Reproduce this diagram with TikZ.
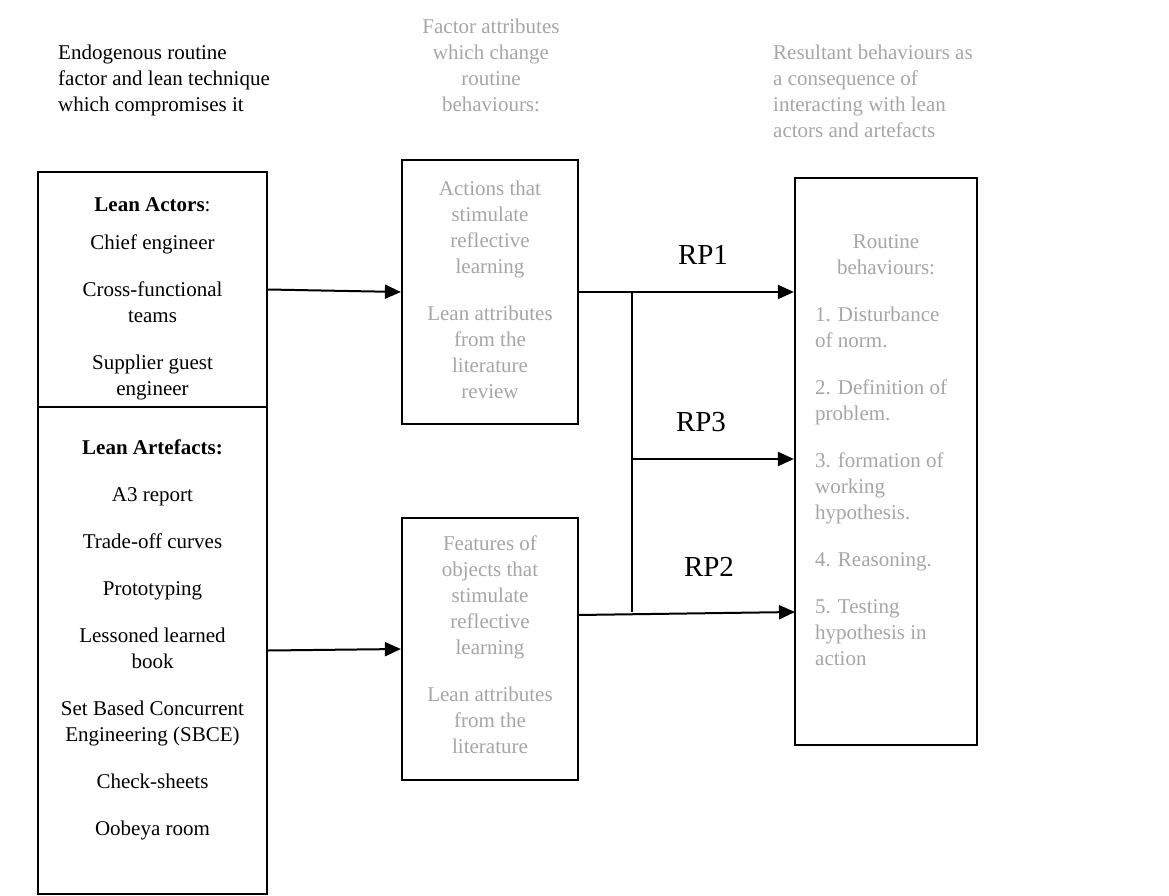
\documentclass[tikz,border=0pt]{standalone}
\usepackage{fontspec}
\setmainfont{Liberation Serif}
\usetikzlibrary{arrows.meta}
\definecolor{ltgray}{RGB}{166,166,166}
\tikzset{
  box/.style={draw=black, line width=2.2pt, inner sep=0pt, fill=white},
  txt/.style={inner sep=0pt, font=\fontsize{21}{26}\selectfont},
  gtxt/.style={txt, text=ltgray},
  rplabel/.style={inner sep=0pt, font=\fontsize{29}{34}\selectfont},
  thickln/.style={line width=2pt},
  thinln/.style={line width=1.2pt},
  arr/.style={-{Triangle[length=16pt,width=14pt]}},
}
\begin{document}
\begin{tikzpicture}[x=1pt,y=-1pt]
\useasboundingbox (0,0) rectangle (1169,896);

% boxes
\node[box, minimum width=229pt, minimum height=235pt] (actors) at (152.5,289.5) {};
\node[box, minimum width=229pt, minimum height=487pt] (artefacts) at (152.5,650.5) {};
\node[box, minimum width=176pt, minimum height=264pt] (actions) at (490,292) {};
\node[box, minimum width=176pt, minimum height=262pt] (features) at (490,649) {};
\node[box, minimum width=182pt, minimum height=567pt] (routine) at (886,461.5) {};

% headers
\node[txt, anchor=north west, align=left] (hleft) at (58,45)
  {Endogenous routine\\factor and lean technique\\which compromises it};
\node[gtxt, anchor=north, align=center] (hmid) at (491,19)
  {Factor attributes\\which change\\routine\\behaviours:};
\node[gtxt, anchor=north west, align=left] (hright) at (773,45)
  {Resultant behaviours as\\a consequence of\\interacting with lean\\actors and artefacts};

% box texts
\node[txt, anchor=north, align=center] (tactors) at (152.5,197)
  {\textbf{Lean Actors}:\\[12pt]Chief engineer\\[21pt]Cross-functional\\teams\\[21pt]Supplier guest\\engineer};
\node[txt, anchor=north, align=center] (tartefacts) at (152.5,440)
  {\textbf{Lean Artefacts:}\\[21pt]A3 report\\[21pt]Trade-off curves\\[21pt]Prototyping\\[21pt]Lessoned learned\\book\\[21pt]Set Based Concurrent\\Engineering (SBCE)\\[21pt]Check-sheets\\[21pt]Oobeya room};
\node[gtxt, anchor=north, align=center] (tactions) at (490,181)
  {Actions that\\stimulate\\reflective\\learning\\[21pt]Lean attributes\\from the\\literature\\review};
\node[gtxt, anchor=north, align=center] (tfeatures) at (490,536)
  {Features of\\objects that\\stimulate\\reflective\\learning\\[21pt]Lean attributes\\from the\\literature};
\node[gtxt, anchor=north, align=center] (troutinehead) at (886,234)
  {Routine\\behaviours:};
\node[gtxt, anchor=north west, align=left] (troutinelist) at (815,307)
  {1. Disturbance\\of norm.\\[21pt]2. Definition of\\problem.\\[21pt]3. formation of\\working\\hypothesis.\\[21pt]4. Reasoning.\\[21pt]5. Testing\\hypothesis in\\action};

% RP labels
\node[rplabel] (rp1) at (703,255) {RP1};
\node[rplabel] (rp3) at (701,422) {RP3};
\node[rplabel] (rp2) at (709,567) {RP2};

% coordinates for connectors
\coordinate (a1) at (657,292);
\coordinate (a2) at (770,292);
\coordinate (t1) at (routine.west |- actions.east);
\coordinate (j1) at (632,292);
\coordinate (j2) at (632,612);
\coordinate (j3) at (632,459);
\coordinate (b1) at (657,459);
\coordinate (b2) at (770,459);
\coordinate (t3) at (routine.west |- j3);
\coordinate (f2) at (578,615);
\coordinate (t2) at (795,612);

% connectors
\draw[thickln, arr] (actors.east) -- (actions.west);
\draw[thickln, arr] (artefacts.east) -- (features.west);
\draw[thickln] (actions.east) -- (a1);
\draw[thinln] (a1) -- (a2);
\draw[thickln, arr] (a2) -- (t1);
\draw[thinln] (j1) -- (j2);
\draw[thickln] (j3) -- (b1);
\draw[thinln] (b1) -- (b2);
\draw[thickln, arr] (b2) -- (t3);
\draw[thickln, arr] (f2) -- (t2);
\end{tikzpicture}
\end{document}
